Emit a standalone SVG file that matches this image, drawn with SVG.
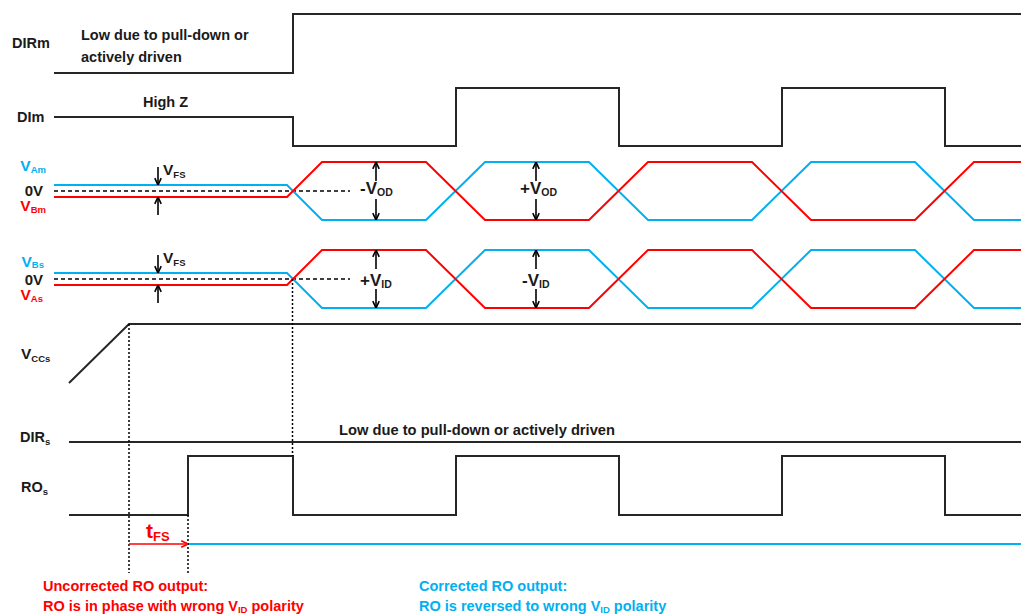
<svg xmlns="http://www.w3.org/2000/svg" width="1021" height="615" viewBox="0 0 1021 615">
<style>
text{font-family:"Liberation Sans",Arial,sans-serif;font-weight:bold;font-size:14.5px}
.k{fill:#1a1a1a}
.b{fill:#00b0f0}
.r{fill:#ff0000}
.sub{font-size:9.5px}
.w{fill:none;stroke:#262626;stroke-width:2}
.wb{fill:none;stroke:#00b0f0;stroke-width:2}
.wr{fill:none;stroke:#ff0000;stroke-width:2}
.dash{stroke:#000;stroke-width:1.5;stroke-dasharray:4 3;fill:none}
.dot{stroke:#000;stroke-width:1.5;stroke-dasharray:2 2;fill:none}
.arr{stroke:#000;stroke-width:1.6;fill:none;marker-end:url(#ah)}
.arrR{stroke:#ff0000;stroke-width:1.6;fill:none;marker-end:url(#ahr)}
.big{font-size:17px}
.bsub{font-size:10.5px}
</style>
<defs>
<marker id="ah" viewBox="0 0 10 10" refX="9.5" refY="5" markerWidth="8" markerHeight="8" markerUnits="userSpaceOnUse" orient="auto">
<path d="M1,1 L9.5,5 L1,9" fill="none" stroke="#000" stroke-width="2"/>
</marker>
<marker id="ahr" viewBox="0 0 10 10" refX="9.5" refY="5" markerWidth="8" markerHeight="8" markerUnits="userSpaceOnUse" orient="auto">
<path d="M1,1 L9.5,5 L1,9" fill="none" stroke="#ff0000" stroke-width="2"/>
</marker>
</defs>

<g id="DIRm">
<text class="k" x="12" y="48">DIRm</text>
<text class="k" x="81" y="40">Low due to pull-down or</text>
<text class="k" x="81" y="62">actively driven</text>
<path class="w" d="M54,73 H293 V14 H1021"/>
</g>

<g id="DIm">
<text class="k" x="17" y="122">DIm</text>
<text class="k" x="143" y="107">High Z</text>
<path class="w" d="M54,117 H293 V146 H456 V88 H619 V146 H782 V88 H945 V146 H1021"/>
</g>

<g id="master-bus">
<text class="b" x="46" y="171" text-anchor="end" style="font-size:15.5px">V<tspan class="sub" dy="2">Am</tspan></text>
<text class="k" x="43" y="196" text-anchor="end" style="font-size:15px">0V</text>
<text class="r" x="46" y="211" text-anchor="end" style="font-size:15.5px">V<tspan class="sub" dy="2">Bm</tspan></text>
<path class="dash" d="M54,191 H350"/>
<path class="wb" d="M54,185 H287 L322,220 H426 L485,162 H589 L648,220 H752 L811,162 H915 L974,220 H1021"/>
<path class="wr" d="M54,197 H287 L322,162 H426 L485,220 H589 L648,162 H752 L811,220 H915 L974,162 H1021"/>
<text class="k" x="163" y="175" style="font-size:15.5px">V<tspan class="sub" dy="3">FS</tspan></text>
<text class="k big" x="360" y="194">-V<tspan class="bsub" dy="2">OD</tspan></text>
<text class="k big" x="520" y="194">+V<tspan class="bsub" dy="2">OD</tspan></text>
</g>

<g id="slave-bus">
<text class="b" x="44" y="266.5" text-anchor="end" style="font-size:15.5px">V<tspan class="sub" dy="1.5">Bs</tspan></text>
<text class="k" x="43" y="285" text-anchor="end" style="font-size:15px">0V</text>
<text class="r" x="43" y="300" text-anchor="end" style="font-size:15.5px">V<tspan class="sub" dy="2">As</tspan></text>
<path class="dash" d="M54,279 H350"/>
<path class="wb" d="M54,273 H287 L322,308 H426 L485,250 H589 L648,308 H752 L811,250 H915 L974,308 H1021"/>
<path class="wr" d="M54,285 H287 L322,250 H426 L485,308 H589 L648,250 H752 L811,308 H915 L974,250 H1021"/>
<text class="k" x="163" y="263" style="font-size:15.5px">V<tspan class="sub" dy="3">FS</tspan></text>
<text class="k big" x="360" y="286">+V<tspan class="bsub" dy="2">ID</tspan></text>
<text class="k big" x="522" y="286">-V<tspan class="bsub" dy="2">ID</tspan></text>
</g>

<g id="VCCs">
<text class="k" x="21" y="359" style="font-size:15.5px">V<tspan class="sub" dy="3">CCs</tspan></text>
<path class="w" d="M69,383 L129,324 H1021"/>
</g>

<g id="DIRs">
<text class="k" x="20" y="442">DIR<tspan class="sub" dy="3">s</tspan></text>
<text class="k" x="339" y="435" textLength="276" lengthAdjust="spacingAndGlyphs">Low due to pull-down or actively driven</text>
<path class="w" d="M69,442 H1021"/>
</g>

<g id="ROs">
<text class="k" x="21" y="492">RO<tspan class="sub" dy="3">s</tspan></text>
<path class="w" d="M69,515 H188 V456 H293 V515 H456 V456 H619 V515 H782 V456 H945 V515 H1021"/>
<path class="wb" d="M188,544 H1021"/>
<text class="r" x="146" y="538" style="font-size:21px">t<tspan style="font-size:13px" dy="3">FS</tspan></text>
</g>

<g id="notes">
<text class="r" x="43" y="591">Uncorrected RO output:</text>
<text class="r" x="43" y="611">RO is in phase with wrong V<tspan class="sub" dy="2">ID</tspan><tspan dy="-2"> polarity</tspan></text>
<text class="b" x="419" y="591">Corrected RO output:</text>
<text class="b" x="419" y="611">RO is reversed to wrong V<tspan class="sub" dy="2">ID</tspan><tspan dy="-2"> polarity</tspan></text>
</g>

<g id="connectors">
<path class="arr" d="M158,167 V185"/>
<path class="arr" d="M158,215 V197"/>
<path class="arr" d="M158,255 V273"/>
<path class="arr" d="M158,303 V285"/>
<path class="arr" d="M376,181 V162"/>
<path class="arr" d="M376,199 V220"/>
<path class="arr" d="M536,181 V162"/>
<path class="arr" d="M536,199 V220"/>
<path class="arr" d="M376,269 V250"/>
<path class="arr" d="M376,289 V308"/>
<path class="arr" d="M536,269 V250"/>
<path class="arr" d="M536,289 V308"/>
<path class="dot" d="M292.5,279 V456"/>
<path class="dot" d="M129,324 V573"/>
<path class="dot" d="M188,515 V573"/>
<path class="arrR" d="M129,544 H188"/>
</g>
</svg>
